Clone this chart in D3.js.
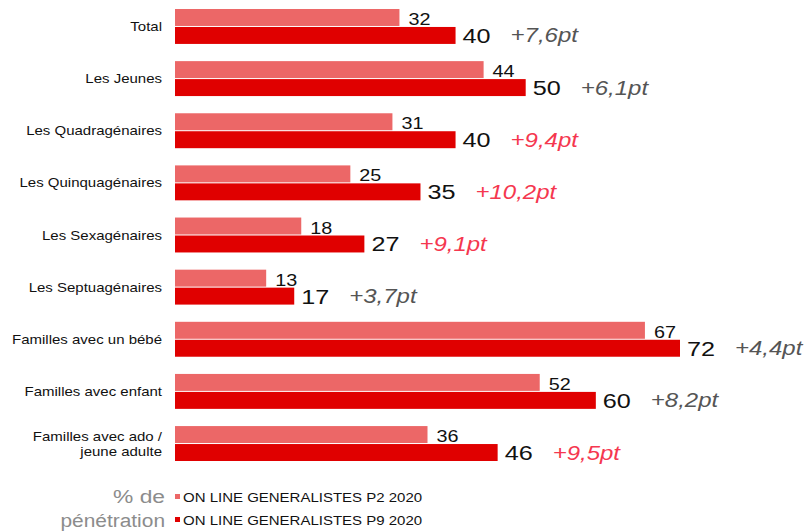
<!DOCTYPE html>
<meta charset="utf-8">
<style>
  body { margin: 0; background: #fff; }
  text { font-family: "Liberation Sans", Arial, sans-serif; }
</style>
<svg width="810" height="531"></svg>
<script src="https://d3js.org/d3.v7.min.js"></script>
<script>

var svg = d3.select("svg");

// data
var categories = ["Total", "Les Jeunes", "Les Quadragénaires", "Les Quinquagénaires",
  "Les Sexagénaires", "Les Septuagénaires", "Familles avec un bébé",
  "Familles avec enfant", "Familles avec ado /\njeune adulte"];
var p2Values = [32, 44, 31, 25, 18, 13, 67, 52, 36];
var p9Values = [40, 50, 40, 35, 27, 17, 72, 60, 46];
var deltas = ["+7,6pt", "+6,1pt", "+9,4pt", "+10,2pt", "+9,1pt", "+3,7pt", "+4,4pt", "+8,2pt", "+9,5pt"];
var deltaHighlight = [false, false, true, true, true, false, false, false, true];
var seriesNames = ["ON LINE GENERALISTES P2 2020", "ON LINE GENERALISTES P9 2020"];

var colorP2 = "#ec6767";
var colorP9 = "#e00000";
var deltaGray = "#555";
var deltaRed = "#f5374f";
var stretch = 1.2; // the original text is drawn wider than normal

var x0 = 175;
var x = d3.scaleLinear().domain([0, 72]).range([x0, 680]);

var y = d3.scaleBand()
    .domain(d3.range(categories.length))
    .range([9, 461])
    .paddingInner(0.33)
    .paddingOuter(0);

var barH = y.bandwidth() / 2 - 0.5;

// text drawn at (px,py), stretched horizontally
function wideText(sel, px, py, s) {
  return sel.append("text")
      .attr("transform", "translate(" + px + "," + py + ") scale(" + (s || stretch) + ",1)");
}

var rows = svg.append("g").selectAll("g.row")
    .data(categories.map(function(c, i) { return i; }))
    .enter().append("g")
    .attr("class", "row")
    .attr("transform", function(i) { return "translate(0," + y(i) + ")"; });

rows.each(function(i) {
  var row = d3.select(this);

  row.append("rect")
      .attr("x", x0)
      .attr("y", 0)
      .attr("width", x(p2Values[i]) - x0)
      .attr("height", barH)
      .attr("fill", colorP2);

  row.append("rect")
      .attr("x", x0)
      .attr("y", barH + 1)
      .attr("width", x(p9Values[i]) - x0)
      .attr("height", barH)
      .attr("fill", colorP9);

  wideText(row, x(p2Values[i]) + 9, barH - 1)
      .attr("font-size", 16.5)
      .attr("fill", "#111")
      .text(p2Values[i]);

  wideText(row, x(p9Values[i]) + 7, barH + 1 + barH / 2 + 7.5)
      .attr("font-size", 21)
      .attr("fill", "#111")
      .text(p9Values[i]);

  wideText(row, x(p9Values[i]) + 55, barH + 1 + barH / 2 + 7)
      .attr("font-size", 20)
      .attr("font-style", "italic")
      .attr("fill", deltaHighlight[i] ? deltaRed : deltaGray)
      .text(deltas[i]);

  var lines = categories[i].split("\n");
  var t = wideText(row, 162, barH + 0.5)
      .attr("text-anchor", "end")
      .attr("font-size", 12.5)
      .attr("fill", "#111");
  lines.forEach(function(l, k) {
    t.append("tspan")
      .attr("x", 0)
      .attr("dy", k === 0 ? (4.5 - (lines.length - 1) * 7.5) : 15)
      .text(l);
  });
});

// legend
var legend = svg.append("g");
wideText(legend, 165, 503)
    .attr("text-anchor", "end")
    .attr("font-size", 19)
    .attr("fill", "#8c8c8c")
    .text("% de");
wideText(legend, 165, 527, 1.1)
    .attr("text-anchor", "end")
    .attr("font-size", 19)
    .attr("fill", "#8c8c8c")
    .text("pénétration");

[colorP2, colorP9].forEach(function(c, k) {
  var ly = 497 + k * 23;
  legend.append("rect")
      .attr("x", 175).attr("y", ly - 3)
      .attr("width", 5).attr("height", 5)
      .attr("fill", c);
  wideText(legend, 183, ly + 4.5)
      .attr("font-size", 12.5)
      .attr("fill", "#111")
      .text(seriesNames[k]);
});

</script>
